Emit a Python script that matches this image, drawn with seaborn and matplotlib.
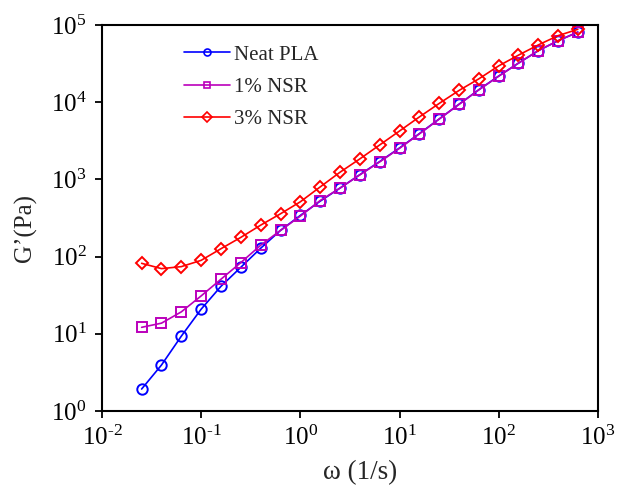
import numpy as np
import pandas as pd
import matplotlib
matplotlib.use("Agg")
import matplotlib.pyplot as plt
import seaborn as sns

# Angular frequency sweep (rad/s), 5 points per decade
omega = [0.0251, 0.0398, 0.0631, 0.1, 0.158, 0.251, 0.398, 0.631, 1.0, 1.58,
         2.51, 3.98, 6.31, 10.0, 15.8, 25.1, 39.8, 63.1, 100.0, 158.0,
         251.0, 398.0, 628.0]

# Storage modulus G' (Pa)
neat_pla = [1.92, 3.93, 9.3, 20.8, 41.0, 72.5, 128, 218, 341, 520,
            770, 1150, 1700, 2550, 3900, 6050, 9400, 14500, 21800, 32000,
            46500, 62500, 81000]
nsr_1 = [12.1, 13.7, 19.2, 30.9, 50.7, 83.4, 140, 218, 334, 530,
         770, 1143, 1683, 2523, 3868, 6040, 9350, 14460, 21700, 32000,
         46600, 62700, 80400]
nsr_3 = [81.7, 69.7, 74.0, 89.3, 126, 177, 255, 358, 512, 795,
         1236, 1841, 2790, 4230, 6415, 9620, 14170, 20060, 29520, 40600,
         55200, 72800, 87900]

series_names = ["Neat PLA", "1% NSR", "3% NSR"]
colors = {"Neat PLA": "#0000FF", "1% NSR": "#BB00BB", "3% NSR": "#FF0000"}
markers = {"Neat PLA": "o", "1% NSR": "s", "3% NSR": "D"}
msizes = {"Neat PLA": 7.5, "1% NSR": 7.5, "3% NSR": 6.5}

x_tick_vals = [1e-2, 1e-1, 1e0, 1e1, 1e2, 1e3]
y_tick_vals = [1e0, 1e1, 1e2, 1e3, 1e4, 1e5]

df = pd.concat([
    pd.DataFrame({"omega": omega, "G": vals, "sample": name})
    for name, vals in zip(series_names, [neat_pla, nsr_1, nsr_3])
], ignore_index=True)

sns.set_theme(style="white")
plt.rcParams["font.family"] = ["Liberation Serif", "DejaVu Serif"]
plt.rcParams["mathtext.fontset"] = "custom"
plt.rcParams["mathtext.rm"] = "Liberation Serif"
plt.rcParams["mathtext.it"] = "Liberation Serif:italic"
plt.rcParams["mathtext.default"] = "rm"

fig = plt.figure(figsize=(6.28, 4.88), dpi=100)
ax = fig.add_axes([0.1624, 0.158, 0.7896, 0.7908])

for name in series_names:
    sub = df[df["sample"] == name]
    sns.lineplot(data=sub, x="omega", y="G", ax=ax, color=colors[name],
                 marker=markers[name], markersize=msizes[name],
                 markerfacecolor="none", markeredgecolor=colors[name],
                 markeredgewidth=1.4, linewidth=1.2, label=name,
                 estimator=None, sort=False)


def pow10_label(v):
    # short hyphen (U+2010) in negative exponents instead of a long minus
    e = int(round(np.log10(v)))
    exp = "\u2010" + str(abs(e)) if e < 0 else str(e)
    return r"10$^{\mathrm{" + exp + "}}$"


ax.set_xscale("log")
ax.set_yscale("log")
ax.set_xlim(1e-2, 1e3)
ax.set_ylim(1e0, 1e5)
ax.set_xticks(x_tick_vals)
ax.set_yticks(y_tick_vals)
ax.xaxis.set_minor_locator(matplotlib.ticker.NullLocator())
ax.yaxis.set_minor_locator(matplotlib.ticker.NullLocator())
ax.set_xticklabels([pow10_label(v) for v in x_tick_vals])
ax.set_yticklabels([pow10_label(v) for v in y_tick_vals])

ax.tick_params(axis="both", which="major", direction="out", length=5, width=1.3,
               labelsize=18, bottom=True, left=True, top=False, right=False,
               colors="black")
ax.tick_params(axis="x", pad=6)
ax.tick_params(axis="y", pad=6)
for sp in ax.spines.values():
    sp.set_linewidth(1.5)
    sp.set_color("black")

ax.set_xlabel("ω (1/s)", fontsize=19.5)
ax.xaxis.set_label_coords(0.52, -0.128)
ax.set_ylabel("G’(Pa)", fontsize=18)
ax.yaxis.set_label_coords(-0.131, 0.475)

leg = ax.legend(loc="upper left", bbox_to_anchor=(0.14, 0.98), frameon=False,
                fontsize=15, handlelength=2.2, handletextpad=0.2, labelspacing=0.6,
                borderaxespad=0.2)
for h in leg.legend_handles:
    h.set_markersize(5)
    h.set_markeredgewidth(1.2)

fig.savefig("out.png", dpi=100, facecolor="white")
